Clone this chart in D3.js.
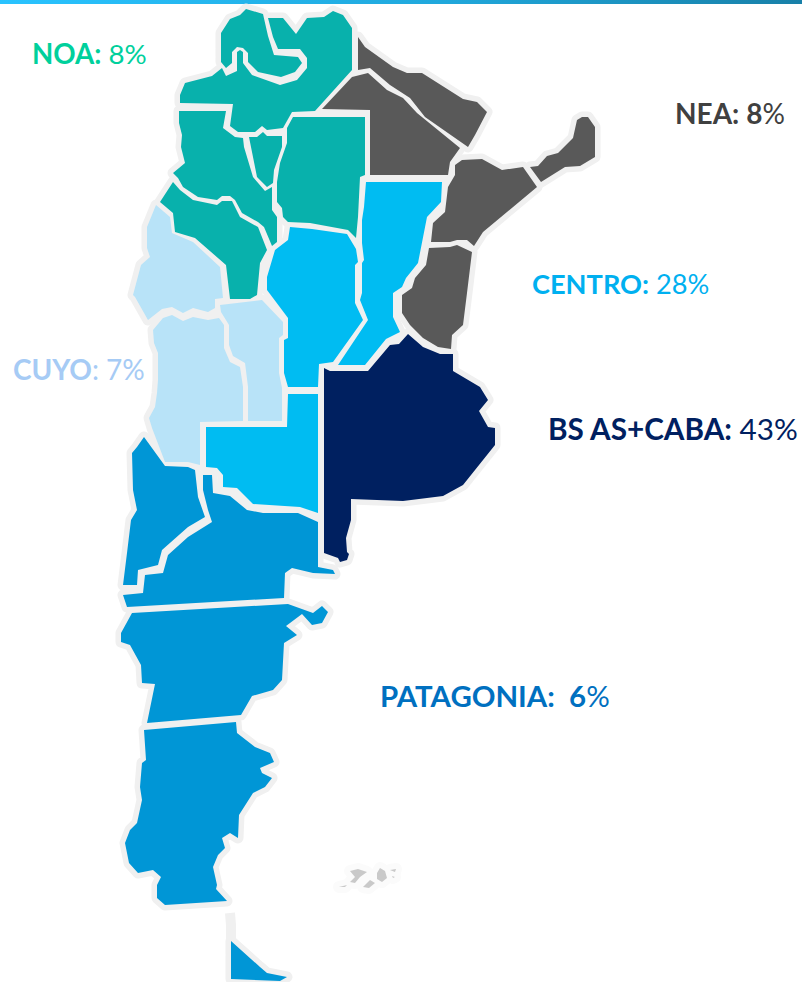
<!DOCTYPE html>
<html>
<head>
<meta charset="utf-8">
<script src="https://cdn.jsdelivr.net/npm/d3@7"></script>
<style>
html,body{margin:0;padding:0;background:#fff;overflow:hidden;}
svg{display:block;}
text{font-family:Lato,"Open Sans",sans-serif;}
</style>
</head>
<body>
<div id="chart"></div>
<script>
// regions and their share
const regions = ["NOA","NEA","CENTRO","BS AS+CABA","CUYO","PATAGONIA"];
const shares = [8,8,28,43,7,6];
const regionColors = ["#08b1ac","#595959","#00bcf2","#002060","#b8e3f8","#0096d6"];
const labelColors = ["#00d09c","#404040","#00b0f0","#002060","#a6cbf5","#0070c0"];

// province outlines
const jujuy = [[221,33],[230,19],[240,15],[246,9],[263,14],[268,36],[274,55],[298,57],[302,63],[295,72],[281,77],[258,72],[248,62],[248,53],[243,48],[237,47],[232,52],[232,63],[226,68],[221,62]];
const salta = [[237,67],[237,52],[240,50],[243,52],[243,63],[252,75],[280,85],[297,80],[307,68],[307,58],[300,49],[278,49],[273,37],[268,18],[283,18],[296,34],[307,18],[324,17],[333,11],[343,15],[352,28],[352,70],[315,111],[292,112],[283,128],[267,130],[262,126],[255,132],[238,132],[230,126],[233,104],[180,103],[180,95],[185,83],[212,76],[222,68],[226,76],[237,71]];
const catamarca = [[179,111],[226,111],[223,128],[235,137],[243,138],[244,147],[253,177],[265,191],[272,187],[272,210],[277,217],[277,242],[272,246],[264,227],[258,222],[242,213],[235,200],[230,196],[222,196],[217,200],[198,197],[183,187],[178,178],[173,173],[185,163],[181,147],[182,135],[179,123]];
const tucuman = [[249,137],[257,137],[263,132],[267,136],[282,136],[282,147],[274,170],[273,183],[267,187],[257,177]];
const santiago = [[293,117],[365,117],[365,175],[360,177],[358,217],[356,238],[348,230],[310,223],[288,222],[283,217],[282,208],[277,202],[277,182],[280,163],[287,143],[287,128]];
const laRioja = [[173,182],[180,190],[193,200],[217,205],[222,201],[232,201],[240,217],[258,227],[267,250],[260,263],[257,295],[250,299],[230,299],[226,265],[195,238],[175,232],[173,213],[160,202]];
const chaco = [[322,109],[352,77],[368,73],[387,90],[403,98],[417,113],[460,148],[450,162],[448,175],[370,175],[370,110]];
const formosa = [[358,37],[365,47],[393,67],[407,73],[422,73],[463,99],[477,102],[487,112],[475,135],[468,147],[425,117],[410,98],[390,85],[370,68],[358,70]];
const corrientes = [[462,160],[482,159],[502,170],[523,167],[537,187],[483,232],[474,246],[467,240],[457,240],[450,242],[431,242],[433,223],[445,212],[448,187],[455,175],[455,165]];
const misiones = [[530,167],[538,166],[547,156],[558,153],[573,138],[577,120],[582,117],[588,117],[595,127],[595,157],[580,166],[565,167],[541,182]];
const entreRios = [[429,248],[450,247],[457,245],[472,252],[467,293],[463,325],[452,335],[451,349],[438,347],[423,338],[410,325],[402,313],[402,295],[412,288],[415,278],[426,265]];
const cordoba = [[290,227],[312,229],[347,234],[356,249],[358,262],[355,265],[355,303],[363,320],[333,362],[319,364],[318,387],[288,387],[284,373],[284,340],[288,338],[288,318],[267,290],[267,277],[275,250],[288,240]];
const santaFe = [[366,182],[442,182],[441,202],[427,217],[418,263],[406,278],[402,287],[393,293],[393,317],[400,332],[386,339],[365,365],[338,365],[368,320],[360,300],[362,293],[362,263],[364,260],[362,243],[362,220],[364,207]];
const laPampa = [[206,427],[287,427],[288,394],[318,394],[318,513],[300,507],[253,504],[237,488],[223,487],[223,475],[217,468],[206,467]];
const buenosAires = [[324,368],[330,371],[368,371],[390,345],[399,344],[408,334],[423,347],[440,354],[453,354],[453,371],[480,387],[488,400],[479,411],[488,427],[495,428],[495,445],[463,485],[443,496],[403,501],[377,500],[351,499],[351,520],[346,538],[347,552],[349,554],[347,560],[340,562],[338,558],[324,553]];
const sanJuan = [[156,205],[170,217],[172,233],[193,242],[220,267],[223,298],[215,299],[215,308],[208,312],[193,308],[183,313],[172,307],[162,309],[148,320],[135,297],[133,295],[141,265],[150,257],[147,248],[147,227]];
const mendoza = [[153,330],[163,318],[172,315],[183,321],[193,317],[208,320],[219,318],[224,325],[224,348],[230,362],[240,367],[243,387],[243,421],[200,422],[200,465],[188,462],[165,462],[152,428],[149,418],[155,407],[157,393],[158,380],[158,353],[154,343]];
const sanLuis = [[220,305],[262,300],[283,322],[283,335],[279,338],[279,373],[282,388],[282,421],[248,421],[248,387],[245,363],[233,356],[229,345],[229,325],[221,312]];
const neuquen = [[132,453],[137,447],[144,437],[165,466],[188,467],[195,470],[198,497],[205,517],[188,527],[162,550],[158,565],[138,570],[137,585],[123,585],[127,553],[131,520],[137,510],[133,490]];
const rioNegro = [[203,475],[212,475],[213,493],[230,496],[247,510],[263,513],[298,513],[318,522],[318,567],[333,570],[335,574],[313,573],[292,568],[285,573],[284,598],[127,607],[123,595],[143,593],[145,575],[163,573],[168,555],[188,537],[212,522],[208,510],[203,490]];
const chubut = [[132,613],[288,604],[313,613],[322,606],[328,612],[322,623],[312,625],[302,614],[286,626],[297,635],[284,643],[282,680],[273,690],[252,696],[241,715],[147,723],[155,684],[142,683],[141,665],[130,645],[121,642],[121,633]];
const santaCruz = [[144,730],[236,722],[237,733],[255,747],[270,753],[274,762],[260,768],[262,773],[272,778],[265,787],[253,793],[239,815],[238,838],[230,833],[222,838],[225,848],[218,855],[213,867],[217,885],[216,889],[227,901],[165,905],[157,898],[157,885],[161,877],[153,870],[138,873],[129,863],[125,843],[130,830],[137,823],[142,800],[140,787],[142,763],[146,760]];
const tierraDelFuego = [[231,941],[260,967],[267,973],[287,977],[280,981],[231,979]];
const tierraEdge = [[230,913],[231,925],[231,941]];
const malvinas = [
    [[350,882],[355,877],[350,871],[358,869],[367,872],[360,877],[355,883]],
    [[377,873],[380,868],[385,871],[387,878],[382,882],[377,879]],
    [[363,887],[370,880],[375,883],[369,888]],
    [[339,887],[347,885],[345,887]],
    [[390,870],[396,869],[395,872]],
    [[392,876],[395,877],[393,878]]
];

const provinces = [
    ["NOA",jujuy],["NOA",salta],["NOA",catamarca],["NOA",tucuman],["NOA",santiago],["NOA",laRioja],
    ["NEA",chaco],["NEA",formosa],["NEA",corrientes],["NEA",misiones],["NEA",entreRios],
    ["CENTRO",cordoba],["CENTRO",santaFe],["CENTRO",laPampa],
    ["BS AS+CABA",buenosAires],
    ["CUYO",sanJuan],["CUYO",mendoza],["CUYO",sanLuis],
    ["PATAGONIA",neuquen],["PATAGONIA",rioNegro],["PATAGONIA",chubut],["PATAGONIA",santaCruz],["PATAGONIA",tierraDelFuego]
];

// label text split in bold and regular part
const labelBold = ["NOA:","NEA: 8","CENTRO:","BS AS+CABA:","CUYO","PATAGONIA:  6"];
const labelRegular = [" 8%","%"," 28%"," 43%",": 7%","%"];
const labelX = [32,675,532,548,13,380];
const labelY = [64,124,294,440,380,707];
const labelSize = [27.7,28,27.2,29.7,28,29.4];

const width = 802, height = 982;
const svg = d3.select("#chart").append("svg").attr("width",width).attr("height",height);

const grad = svg.append("defs").append("linearGradient").attr("id","topbar");
grad.append("stop").attr("offset","0%").attr("stop-color","#29c3ff");
grad.append("stop").attr("offset","55%").attr("stop-color","#20a8dc");
grad.append("stop").attr("offset","100%").attr("stop-color","#1880a8");
svg.append("rect").attr("width",width).attr("height",4).attr("fill","url(#topbar)");

const color = d3.scaleOrdinal().domain(regions).range(regionColors);
const labelColor = d3.scaleOrdinal().domain(regions).range(labelColors);
const path = d3.geoPath(d3.geoIdentity());
const poly = pts => ({type:"Polygon",coordinates:[pts.concat([pts[0]])]});

// borders first, fills on top so the gaps stay light
const borderWidth = 11;
const map = svg.append("g").classed("map",true);
map.append("g").selectAll("path")
    .data(malvinas)
    .join("path")
    .attr("d",d=>path(poly(d)))
    .attr("fill","#fbfbfb")
    .attr("stroke","#fbfbfb")
    .attr("stroke-width",12)
    .attr("stroke-linejoin","round");
map.append("g").selectAll("path")
    .data(malvinas)
    .join("path")
    .attr("d",d=>path(poly(d)))
    .attr("fill","#c9c9c9");
map.append("path")
    .attr("d",path({type:"LineString",coordinates:tierraEdge}))
    .attr("fill","none")
    .attr("stroke","#f0f0f0")
    .attr("stroke-width",10);
map.append("g").selectAll("path")
    .data(provinces)
    .join("path")
    .attr("d",d=>path(poly(d[1])))
    .attr("fill","#f0f0f0")
    .attr("stroke","#f0f0f0")
    .attr("stroke-width",borderWidth)
    .attr("stroke-linejoin","round");
map.append("g").selectAll("path")
    .data(provinces)
    .join("path")
    .attr("d",d=>path(poly(d[1])))
    .attr("fill",d=>color(d[0]));

const labels = svg.append("g").classed("labels",true).selectAll("text")
    .data(regions)
    .join("text")
    .attr("x",(d,i)=>labelX[i])
    .attr("y",(d,i)=>labelY[i])
    .attr("fill",d=>labelColor(d))
    .attr("font-size",(d,i)=>labelSize[i])
    .attr("xml:space","preserve")
    .style("white-space","pre");
labels.append("tspan").attr("font-weight",700).text((d,i)=>labelBold[i]);
labels.append("tspan").attr("font-weight",400).text((d,i)=>labelRegular[i]);
</script>
</body>
</html>
